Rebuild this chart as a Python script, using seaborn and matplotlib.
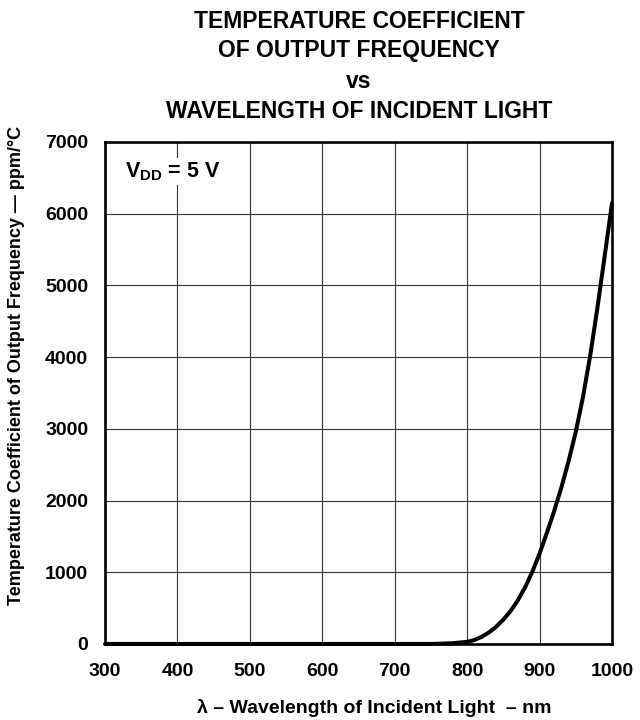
import matplotlib
matplotlib.use("Agg")
import matplotlib.pyplot as plt
import seaborn as sns
import pandas as pd

# Values (VDD = 5 V)
wavelength_nm = [300, 400, 500, 600, 700, 750, 760, 780, 800, 810, 820, 830, 840, 850,
                 860, 870, 880, 890, 900, 910, 920, 930, 940, 950, 960, 970, 980, 990, 1000]
temp_coeff_ppm = [0, 0, 0, 0, 0, 0, 3, 10, 30, 55, 100, 160, 240, 340,
                  460, 610, 790, 1010, 1260, 1550, 1850, 2180, 2550, 2960, 3450, 4030, 4700, 5420, 6150]

x_ticks = [300, 400, 500, 600, 700, 800, 900, 1000]
y_ticks = [0, 1000, 2000, 3000, 4000, 5000, 6000, 7000]

title_lines = ["TEMPERATURE COEFFICIENT", "OF OUTPUT FREQUENCY", "vs",
               "WAVELENGTH OF INCIDENT LIGHT"]

df = pd.DataFrame({"wavelength": wavelength_nm, "tc": temp_coeff_ppm})

sns.set_style("white")
plt.rcParams["font.family"] = ["Liberation Sans", "DejaVu Sans"]
plt.rcParams["font.weight"] = "bold"
plt.rcParams["text.color"] = "black"
plt.rcParams["xtick.color"] = "black"
plt.rcParams["ytick.color"] = "black"
plt.rcParams["mathtext.fontset"] = "custom"
plt.rcParams["mathtext.rm"] = "Liberation Sans:bold"
plt.rcParams["mathtext.bf"] = "Liberation Sans:bold"

fig = plt.figure(figsize=(6.4, 7.2), dpi=100)
ax = fig.add_axes([0.1641, 0.1056, 0.7922, 0.6972])

sns.lineplot(data=df, x="wavelength", y="tc", ax=ax, color="black", linewidth=2.9,
             clip_on=False, zorder=5)

ax.set_xlim(300, 1000)
ax.set_ylim(0, 7000)
ax.set_xticks(x_ticks)
ax.set_yticks(y_ticks)
ax.set_xticklabels([str(t) for t in x_ticks], fontsize=14, fontweight="bold", color="black")
ax.set_yticklabels([str(t) for t in y_ticks], fontsize=14, fontweight="bold", color="black")
ax.tick_params(axis="both", length=0)
ax.tick_params(axis="x", pad=14)
ax.tick_params(axis="y", pad=12)
ax.grid(True, color="#333333", linewidth=0.8)
for s in ax.spines.values():
    s.set_visible(True)
    s.set_color("black")
    s.set_linewidth(1.9)
ax.set_xlabel("")
ax.set_ylabel("")

# supply voltage note, upper left inside the plot (white behind it hides the grid line)
ax.text(0.04, 0.93, r"$\mathrm{V_{DD}}$ = 5 V", transform=ax.transAxes,
        fontsize=15.5, fontweight="bold", va="baseline", ha="left", color="black",
        bbox=dict(facecolor="white", edgecolor="none", pad=1.5), zorder=6)

# title block, one line at a time
baselines = [28, 57, 88, 118]
for line, yb in zip(title_lines, baselines):
    fig.text(359 / 640, 1 - yb / 720, line, ha="center", va="baseline",
             fontsize=16.5, fontweight="bold", color="black")

fig.text(17 / 640, 1 - 365 / 720,
         "Temperature Coefficient of Output Frequency \u2014 ppm/\u00b0C",
         rotation=90, ha="center", va="center", fontsize=13, fontweight="bold", color="black")
fig.text(374 / 640, 1 - 713 / 720,
         "\u03bb \u2013 Wavelength of Incident Light  \u2013 nm",
         ha="center", va="baseline", fontsize=14, fontweight="bold", color="black")

fig.savefig("out.png", dpi=100, facecolor="white")
plt.close(fig)
